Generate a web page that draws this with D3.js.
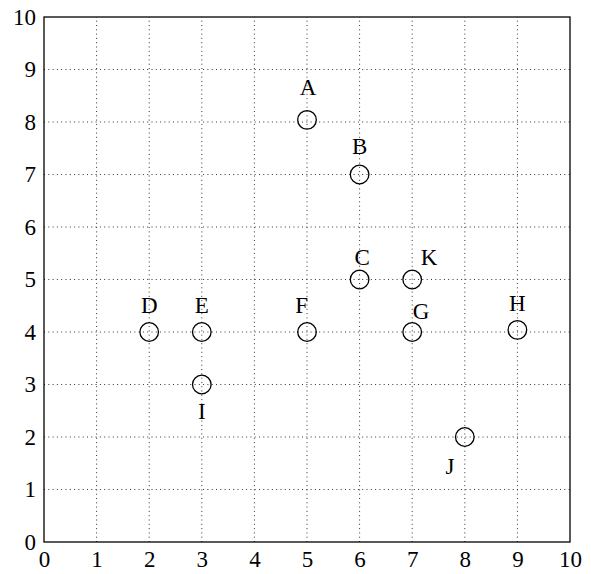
<!DOCTYPE html>
<html>
<head>
<meta charset="utf-8">
<script src="https://cdn.jsdelivr.net/npm/d3@7"></script>
<style>
  body { margin: 0; background: #fff; }
  text { font-family: "Liberation Serif", "DejaVu Serif", serif; fill: #000; }
</style>
</head>
<body>
<svg id="chart" width="591" height="574"></svg>
<script>
;(function (d3) {
  // point data
  var names = ['A', 'B', 'C', 'D', 'E', 'F', 'G', 'H', 'I', 'J', 'K']
  var xs = [5, 6, 6, 2, 3, 5, 7, 9, 3, 8, 7]
  var ys = [8.04, 7, 5, 4, 4, 4, 4, 4.04, 3, 2, 5]
  // where each letter sits (data units)
  var labelX = [5.02, 6.0, 6.05, 2.0, 3.0, 4.9, 7.17, 9.0, 3.0, 7.72, 7.32]
  var labelY = [8.65, 7.54, 5.41, 4.51, 4.51, 4.51, 4.4, 4.55, 2.48, 1.43, 5.41]
  var ticks = [0, 1, 2, 3, 4, 5, 6, 7, 8, 9, 10]

  var svg = d3.select('#chart')
  var x = d3.scaleLinear().domain([0, 10]).range([44, 570])
  var y = d3.scaleLinear().domain([0, 10]).range([542, 17])

  var grid = svg.append('g')
  grid.selectAll('line.v')
    .data(ticks.slice(1, -1))
    .enter().append('line')
    .attr('x1', function (d) { return x(d) })
    .attr('x2', function (d) { return x(d) })
    .attr('y1', y(0)).attr('y2', y(10))
    .attr('stroke', '#333').attr('stroke-width', 1)
    .attr('stroke-dasharray', '1,3.3')
  grid.selectAll('line.h')
    .data(ticks.slice(1, -1))
    .enter().append('line')
    .attr('y1', function (d) { return y(d) })
    .attr('y2', function (d) { return y(d) })
    .attr('x1', x(0)).attr('x2', x(10))
    .attr('stroke', '#333').attr('stroke-width', 1)
    .attr('stroke-dasharray', '1,3.3')

  svg.append('rect')
    .attr('x', x(0)).attr('y', y(10))
    .attr('width', x(10) - x(0)).attr('height', y(0) - y(10))
    .attr('fill', 'none').attr('stroke', '#000').attr('stroke-width', 1.3)

  var xAxis = d3.axisBottom(x).tickValues(ticks).tickSize(0).tickPadding(9)
  var gx = svg.append('g').attr('transform', 'translate(0,' + y(0) + ')').call(xAxis)
  var yAxis = d3.axisLeft(y).tickValues(ticks).tickSize(0).tickPadding(8)
  var gy = svg.append('g').attr('transform', 'translate(' + x(0) + ',0)').call(yAxis)
  ;[gx, gy].forEach(function (g) {
    g.attr('font-size', 23).attr('font-family', '"Liberation Serif", serif')
    g.select('.domain').remove()
  })

  var pts = names.map(function (n, i) {
    return {name: n, x: xs[i], y: ys[i], lx: labelX[i], ly: labelY[i]}
  })

  svg.selectAll('circle.pt')
    .data(pts)
    .enter().append('circle')
    .attr('class', 'pt')
    .attr('cx', function (d) { return x(d.x) })
    .attr('cy', function (d) { return y(d.y) })
    .attr('r', 9.3)
    .attr('fill', 'none').attr('stroke', '#000').attr('stroke-width', 1.3)

  svg.selectAll('text.lbl')
    .data(pts)
    .enter().append('text')
    .attr('class', 'lbl')
    .attr('x', function (d) { return x(d.lx) })
    .attr('y', function (d) { return y(d.ly) })
    .attr('text-anchor', 'middle')
    .attr('dominant-baseline', 'central')
    .attr('font-size', 23)
    .text(function (d) { return d.name })
})(window.d3)
</script>
</body>
</html>
